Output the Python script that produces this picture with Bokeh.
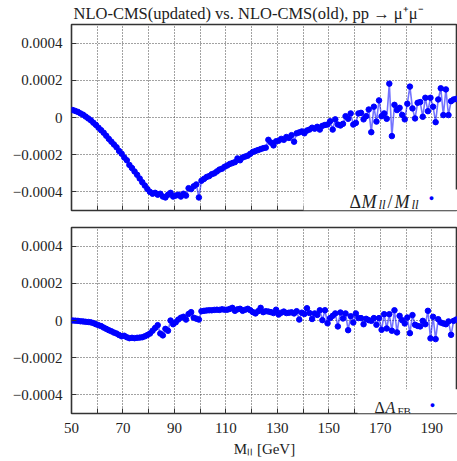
import numpy as np
from bokeh.plotting import figure
from bokeh.layouts import column
from bokeh.models import (ColumnDataSource, FixedTicker, CustomJSTickFormatter,
                          Label, BoxAnnotation, Range1d)
from bokeh.embed import file_html
from bokeh.resources import INLINE

# ---------------- data (values in units of 1e-4) ----------------
mass = np.arange(50.5, 200.0, 1.0)  # bin centres, GeV

dm_over_m_e4 = [
    0.40, 0.35, 0.30, 0.22, 0.15, 0.05, -0.05, -0.15, -0.28, -0.40,
    -0.55, -0.68, -0.82, -0.98, -1.15, -1.30, -1.45, -1.60, -1.80, -1.95,
    -2.15, -2.30, -2.55, -2.72, -2.90, -3.08, -3.28, -3.48, -3.66, -3.85,
    -4.00, -4.10, -4.05, -4.15, -4.10, -4.25, -4.30, -4.15, -4.05, -4.25,
    -4.20, -4.15, -4.25, -4.10, -4.20, -3.80, -3.85, -3.70, -3.60, -4.30,
    -3.40, -3.30, -3.20, -3.15, -3.05, -3.00, -2.90, -2.80, -2.75, -2.65,
    -2.58, -2.50, -2.45, -2.40, -2.20, -2.30, -2.15, -2.10, -2.05, -1.95,
    -1.85, -1.80, -1.75, -1.70, -1.65, -1.62, -1.20, -1.35, -1.50, -1.28,
    -1.25, -1.15, -1.20, -1.05, -1.10, -0.95, -1.30, -0.85, -0.80, -0.75,
    -0.85, -0.70, -0.65, -0.55, -0.60, -0.50, -0.65, -0.45, -0.40, -0.38,
    -0.20, -0.65, -0.10, -0.38, -0.43, -0.34, 0.07, -0.07, 0.22, -0.38,
    -0.29, 0.22, 0.25, -0.10, 0.07, 0.43, -0.79, 0.58, -0.22, 0.92,
    0.07, 0.22, -0.07, 1.82, -1.00, 0.68, 0.40, 0.52, 0.14, -0.10,
    0.74, 1.66, 0.49, -0.05, 0.79, 0.83, 0.04, 1.06, 0.34, 1.06,
    0.58, -0.25, 0.97, 1.57, 0.13, 1.51, 0.13, 0.88, 0.97, 1.00,
]

dafb_e4 = [
    0.00, -0.01, -0.02, -0.04, -0.05, -0.07, -0.08, -0.10, -0.14, -0.20,
    -0.25, -0.30, -0.38, -0.45, -0.52, -0.58, -0.65, -0.70, -0.78, -0.85,
    -0.82, -0.90, -0.95, -0.93, -0.95, -0.93, -0.92, -0.90, -0.85, -0.78,
    -0.70, -0.55, -0.40, -0.25, -0.70, -0.80, -0.45, -0.55, 0.00, -0.20,
    -0.10, 0.05, 0.15, 0.20, 0.05, 0.35, 0.45, 0.15, 0.10, 0.05,
    0.50, 0.52, 0.54, 0.55, 0.55, 0.57, 0.58, 0.57, 0.60, 0.58,
    0.58, 0.62, 0.68, 0.52, 0.60, 0.63, 0.52, 0.58, 0.63, 0.55,
    0.45, 0.38, 0.50, 0.68, 0.45, 0.50, 0.48, 0.45, 0.40, 0.58,
    0.32, 0.42, 0.48, 0.40, 0.42, 0.44, 0.38, 0.50, 0.05, 0.42,
    0.35, 0.66, 0.40, 0.08, 0.38, 0.30, 0.55, 0.02, 0.55, -0.15,
    0.13, 0.25, 0.38, -0.32, 0.43, 0.11, 0.38, -0.52, 0.23, -0.11,
    0.38, 0.13, 0.13, -0.20, 0.09, 0.02, -0.02, 0.13, -0.23, 0.13,
    -0.50, 0.34, -0.43, 0.34, -0.55, 0.55, -0.64, 0.25, 0.02, -0.16,
    0.16, -0.68, 0.29, -0.23, -0.29, -0.32, -0.02, -0.20, 0.52, -0.96,
    0.20, -1.00, 0.07, -0.11, -0.16, -0.20, -0.05, -0.77, -0.02, 0.05,
]

x_ticks = [50, 60, 70, 80, 90, 100, 110, 120, 130, 140, 150, 160, 170, 180, 190, 200]
y_ticks = [-0.0004, -0.0002, 0.0, 0.0002, 0.0004]
title_text = "NLO-CMS(updated) vs. NLO-CMS(old), pp \u2192 \u03bc\u207a\u03bc\u207b"
x_title = "M\u2097\u2097 [GeV]"

SERIF = "Liberation Serif"
TXT = "#222222"
PT = "#0000ff"


def data_px_x(px):
    # pixel column measured from the frame's left edge -> data x (386 px for 150 GeV)
    return 50 + px * 150.0 / 386.0


def make_fig(values, top_border, bottom_border, show_xlabels):
    src = ColumnDataSource(dict(x=mass, y=np.array(values) * 1e-4))
    p = figure(frame_width=386, frame_height=186,
               x_range=Range1d(50, 200), y_range=Range1d(-0.0005, 0.0005),
               output_backend="svg", toolbar_location=None,
               min_border_left=71, min_border_right=0,
               min_border_top=top_border, min_border_bottom=bottom_border,
               background_fill_color="white", border_fill_color="white")

    xt = FixedTicker(ticks=x_ticks, minor_ticks=[])
    yt = FixedTicker(ticks=y_ticks, minor_ticks=[])
    for g, t in ((p.xgrid[0], xt), (p.ygrid[0], yt)):
        g.ticker = t
        g.grid_line_color = "#444444"
        g.grid_line_alpha = 1.0
        g.grid_line_dash = "1 2"
        g.grid_line_width = 1

    p.line("x", "y", source=src, line_color=PT, line_alpha=0.55, line_width=1.6)
    p.scatter("x", "y", source=src, size=5.5, fill_color=PT, line_color=PT)

    p.outline_line_color = "#333333"
    p.outline_line_width = 1.6

    xa = p.xaxis[0]
    xa.ticker = xt
    xa.axis_line_color = None
    xa.major_tick_in = 5
    xa.major_tick_out = 0
    xa.major_tick_line_color = "#333333"
    if show_xlabels:
        xa.formatter = CustomJSTickFormatter(
            code="const t = Math.round(tick); return ((t - 50) % 20 === 0 && t < 200) ? String(t) : '';")
        xa.major_label_text_font = SERIF
        xa.major_label_text_font_size = "15px"
        xa.major_label_text_color = TXT
        xa.major_label_standoff = 9
    else:
        xa.formatter = CustomJSTickFormatter(code="return '';")
        xa.major_label_standoff = 0

    ya = p.yaxis[0]
    ya.ticker = yt
    ya.formatter = CustomJSTickFormatter(
        code="if (Math.abs(tick) < 1e-12) return '0'; "
             "return (tick < 0 ? '\\u2212' : '') + Math.abs(tick).toFixed(4);")
    ya.axis_line_color = None
    ya.major_tick_in = 5
    ya.major_tick_out = 0
    ya.major_tick_line_color = "#333333"
    ya.major_label_text_font = SERIF
    ya.major_label_text_font_size = "15px"
    ya.major_label_text_color = TXT
    ya.major_label_standoff = 9
    return p


def lab(p, x, y, text, size, style="normal", color=TXT, align="left", baseline="alphabetic"):
    p.add_layout(Label(x=x, y=y, text=text, text_font=SERIF, text_font_size=size,
                       text_font_style=style, text_color=color, text_align=align,
                       text_baseline=baseline))


# ---------------- top panel ----------------
p1 = make_fig(dm_over_m_e4, 23, 9, False)
p1.title.text = title_text
p1.title.text_font = SERIF
p1.title.text_font_size = "16.5px"
p1.title.text_font_style = "normal"
p1.title.text_color = TXT
p1.title.align = "left"
p1.title.offset = 2
p1.title.standoff = 3

p1.add_layout(BoxAnnotation(left=data_px_x(232), right=200, bottom=-0.0005, top=-0.000387,
                            fill_color="white", fill_alpha=1, line_color=None))

# legend:  ΔM_ll / M_ll  •
yb = -0.000452
lab(p1, data_px_x(278), yb, "\u0394", "18px")
lab(p1, data_px_x(290), yb, "M", "18px", "italic")
lab(p1, data_px_x(307), yb - 0.000018, "ll", "13px", "italic")
lab(p1, data_px_x(316), yb, "/", "18px")
lab(p1, data_px_x(323), yb, "M", "18px", "italic")
lab(p1, data_px_x(340), yb - 0.000018, "ll", "13px", "italic")
lab(p1, data_px_x(360), -0.000435, "\u25cf", "9px", color=PT, align="center", baseline="middle")

# ---------------- bottom panel ----------------
p2 = make_fig(dafb_e4, 8, 46, True)
p2.add_layout(BoxAnnotation(left=data_px_x(286), right=200, bottom=-0.0005, top=-0.00037,
                            fill_color="white", fill_alpha=1, line_color=None))
yb2 = -0.000468
lab(p2, data_px_x(303), yb2, "\u0394", "16px")
lab(p2, data_px_x(314), yb2, "A", "16px", "italic")
lab(p2, data_px_x(326), yb2 - 0.000016, "FB", "11px")
lab(p2, data_px_x(361), -0.000452, "\u25cf", "9px", color=PT, align="center", baseline="middle")

xa2 = p2.xaxis[0]
xa2.axis_label = x_title
xa2.axis_label_text_font = SERIF
xa2.axis_label_text_font_size = "15px"
xa2.axis_label_text_font_style = "normal"
xa2.axis_label_text_color = TXT
xa2.axis_label_standoff = 5

layout = column(p1, p2, spacing=0)
open("out.html", "w").write(file_html(layout, INLINE))
